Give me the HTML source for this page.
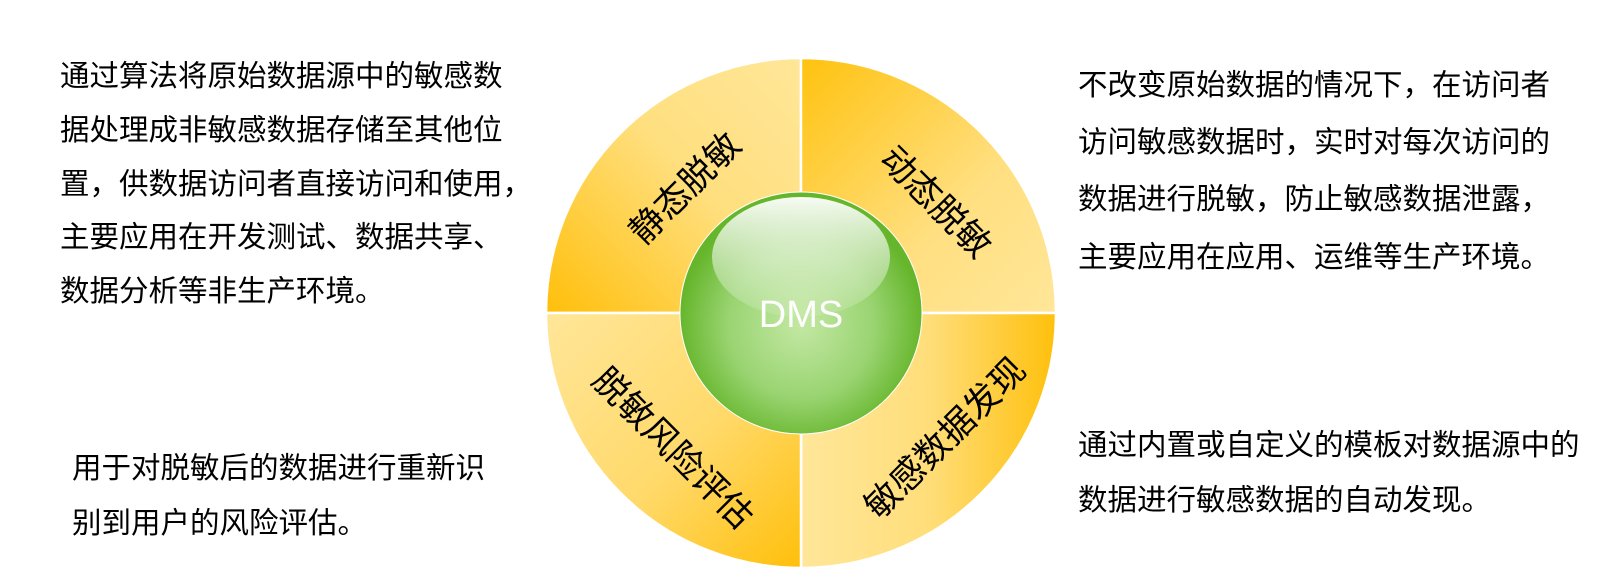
<!DOCTYPE html>
<html><head><meta charset="utf-8"><style>
html,body{margin:0;padding:0;background:#fff;}
body{width:1613px;height:578px;position:relative;overflow:hidden;font-family:"Liberation Sans","Noto Sans CJK SC",sans-serif;}
.t{position:absolute;font-size:29.5px;color:#000;white-space:nowrap;line-height:29px;}
</style></head><body>
<svg width="1613" height="578" style="position:absolute;left:0;top:0">
<defs>
<linearGradient id="gTL" x1="1" y1="0" x2="0" y2="1"><stop offset="0" stop-color="#ffe699"/><stop offset="0.45" stop-color="#ffdf7e"/><stop offset="1" stop-color="#ffbf0a"/></linearGradient>
<linearGradient id="gTR" x1="0" y1="0" x2="1" y2="1"><stop offset="0" stop-color="#ffc20e"/><stop offset="0.6" stop-color="#ffdf80"/><stop offset="1" stop-color="#ffe699"/></linearGradient>
<linearGradient id="gBR" x1="0" y1="0" x2="1" y2="0"><stop offset="0" stop-color="#ffe699"/><stop offset="0.5" stop-color="#ffde7a"/><stop offset="1" stop-color="#ffc00c"/></linearGradient>
<linearGradient id="gBL" x1="0" y1="0" x2="1" y2="1"><stop offset="0" stop-color="#ffe699"/><stop offset="0.55" stop-color="#ffd96a"/><stop offset="1" stop-color="#ffbf0a"/></linearGradient>
<radialGradient id="gS" cx="0.5" cy="0.55" r="0.5"><stop offset="0" stop-color="#c3e8a3"/><stop offset="0.6" stop-color="#9ad472"/><stop offset="1" stop-color="#66b62c"/></radialGradient>
<linearGradient id="gH" x1="0" y1="0" x2="0" y2="1"><stop offset="0" stop-color="#fff" stop-opacity="0.95"/><stop offset="1" stop-color="#fff" stop-opacity="0.1"/></linearGradient>
</defs>
<g stroke="#fff" stroke-width="2.5">
<path d="M801,313 L546,313 A255,255 0 0 1 801,58 Z" fill="url(#gTL)"/>
<path d="M801,313 L801,58 A255,255 0 0 1 1056,313 Z" fill="url(#gTR)"/>
<path d="M801,313 L1056,313 A255,255 0 0 1 801,568 Z" fill="url(#gBR)"/>
<path d="M801,313 L801,568 A255,255 0 0 1 546,313 Z" fill="url(#gBL)"/>
</g>
<circle cx="801" cy="313" r="121" fill="url(#gS)" stroke="#fff" stroke-width="1"/>
<ellipse cx="801" cy="257" rx="89" ry="60" fill="url(#gH)"/>
<text x="801" y="327" text-anchor="middle" font-family="Liberation Sans, sans-serif" font-size="38" fill="#fff">DMS</text>
<g font-family="Liberation Sans, Noto Sans CJK SC, sans-serif" font-size="35" fill="#000" text-anchor="middle">
<text transform="translate(685,188) rotate(-45)" dy="12">静态脱敏</text>
<text transform="translate(936,202) rotate(45)" dy="12">动态脱敏</text>
<text transform="translate(673,448) rotate(45)" dy="12">脱敏风险评估</text>
<text transform="translate(945,438) rotate(-45)" dy="12">敏感数据发现</text>
</g>
</svg>
<div class="t" style="left:60px;top:62px">通过算法将原始数据源中的敏感数</div>
<div class="t" style="left:60px;top:116px">据处理成非敏感数据存储至其他位</div>
<div class="t" style="left:60px;top:170px">置，供数据访问者直接访问和使用，</div>
<div class="t" style="left:60px;top:223px">主要应用在开发测试、数据共享、</div>
<div class="t" style="left:60px;top:277px">数据分析等非生产环境。</div>
<div class="t" style="left:72px;top:454px">用于对脱敏后的数据进行重新识</div>
<div class="t" style="left:72px;top:509px">别到用户的风险评估。</div>
<div class="t" style="left:1078px;top:71px">不改变原始数据的情况下，在访问者</div>
<div class="t" style="left:1078px;top:128px">访问敏感数据时，实时对每次访问的</div>
<div class="t" style="left:1078px;top:185px">数据进行脱敏，防止敏感数据泄露，</div>
<div class="t" style="left:1078px;top:243px">主要应用在应用、运维等生产环境。</div>
<div class="t" style="left:1078px;top:431px">通过内置或自定义的模板对数据源中的</div>
<div class="t" style="left:1078px;top:486px">数据进行敏感数据的自动发现。</div>
</body></html>
